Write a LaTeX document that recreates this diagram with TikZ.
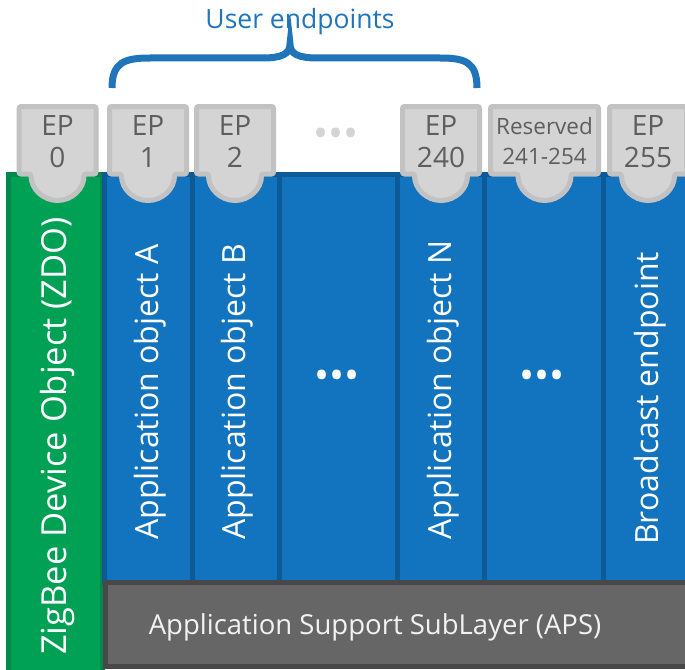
\documentclass[tikz,border=0pt]{standalone}
\usepackage{fontspec}
\setmainfont{Open Sans}
\definecolor{zdogreen}{HTML}{00A055}
\definecolor{zdoedge}{HTML}{00884A}
\definecolor{appblue}{HTML}{1273BE}
\definecolor{appedge}{HTML}{0E5A96}
\definecolor{apsgray}{HTML}{666666}
\definecolor{apsedge}{HTML}{484848}
\definecolor{tablight}{HTML}{D4D4D4}
\definecolor{tabdark}{HTML}{C2C2C2}
\definecolor{tabfont}{HTML}{5E5E5E}
\definecolor{userblue}{HTML}{1F74BA}

\begin{document}
\begin{tikzpicture}[x=1pt, y=-1pt,
    zdocol/.style={fill=zdogreen, draw=zdoedge, line width=5pt},
    appcol/.style={fill=appblue, draw=appedge, line width=5pt},
    apsbox/.style={fill=apsgray, draw=apsedge, line width=5pt},
    eptab/.style={fill=tablight, draw=tabdark, line width=5pt, rounded corners=2pt},
    pics/tab/.style={code={
        \path[eptab] (-#1,106.5) -- (#1,106.5) -- (#1,174) -- (26.5,174)
            arc[start angle=0, end angle=180, radius=26.5] -- (-#1,174) -- cycle;}},
    tabtext/.style={align=center, inner sep=0pt, text=tabfont, font=\fontsize{28}{32}\selectfont},
    coltext/.style={rotate=90, anchor=west, inner sep=0pt, text=white, font=\fontsize{32}{38}\selectfont},
    dotstext/.style={inner sep=0pt, font=\fontsize{40}{40}\selectfont}]

    \useasboundingbox (0,0) rectangle (685,669);
    \clip (0,0) rectangle (685,669);

    % Colonnes (ZDO + objets applicatifs)
    \draw[zdocol] (8.5,174.5) rectangle (102,672);
    \draw[appcol] (104.5,174.5) rectangle (192.5,582.5);
    \draw[appcol] (192.5,174.5) rectangle (279.5,582.5);
    \draw[appcol] (279.5,174.5) rectangle (397.5,582.5);
    \draw[appcol] (397.5,174.5) rectangle (484.5,582.5);
    \draw[appcol] (484.5,174.5) rectangle (603.5,582.5);
    \draw[appcol] (603.5,174.5) rectangle (695,582.5);

    % Couche APS
    \draw[apsbox] (105,582.5) rectangle (695,666.5);
    \node[text=white!95!black, font=\fontsize{27.5}{32}\selectfont] (aps) at (375,627) {Application Support SubLayer (APS)};

    % Onglets des endpoints
    \pic at (57.5,0) {tab=38.5};
    \pic at (148,0) {tab=38.5};
    \pic at (235,0) {tab=38.5};
    \pic at (441,0) {tab=38.5};
    \pic at (544.5,0) {tab=54};
    \pic at (648,0) {tab=38.5};

    \node[tabtext] (ep0) at (57.5,142) {EP\\0};
    \node[tabtext] (ep1) at (148,142) {EP\\1};
    \node[tabtext] (ep2) at (235,142) {EP\\2};
    \node[dotstext, text=tablight] (epdots) at (336,138) {•••};
    \node[tabtext] (ep240) at (441,142) {EP\\240};
    \node[tabtext, font=\fontsize{22.5}{30}\selectfont] (reserved) at (544.5,141) {Reserved\\241-254};
    \node[tabtext] (ep255) at (648,142) {EP\\255};

    % Textes verticaux
    \node[coltext, font=\fontsize{34.5}{40}\selectfont] (zdo) at (58,655) {ZigBee Device Object (ZDO)};
    \node[coltext] (appA) at (150,540) {Application object A};
    \node[coltext] (appB) at (237,540) {Application object B};
    \node[dotstext, text=white] (dotsA) at (337,380) {•••};
    \node[coltext] (appN) at (443,540) {Application object N};
    \node[dotstext, text=white] (dotsB) at (542,380) {•••};
    \node[coltext] (bcast) at (650,545) {Broadcast endpoint};

    % Accolade des endpoints utilisateur
    \node[text=userblue, font=\fontsize{26.5}{30}\selectfont] (user) at (300,22) {User endpoints};
    \draw[userblue, line width=7pt] (112,88) .. controls (112,62) and (125,58) .. (150,58)
        -- (262,58) .. controls (282,58) and (290,54) .. (290,44)
        .. controls (290,54) and (298,58) .. (318,58)
        -- (440,58) .. controls (465,58) and (477,62) .. (477,88);
\end{tikzpicture}
\end{document}
